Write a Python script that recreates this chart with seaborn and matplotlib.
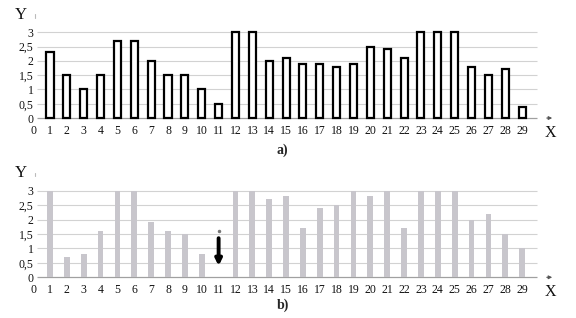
import numpy as np
import pandas as pd
import matplotlib
matplotlib.use("Agg")
import matplotlib.pyplot as plt
import seaborn as sns

# ---- data ----
positions = list(range(1, 30))
values_a = [2.3, 1.5, 1.0, 1.5, 2.7, 2.7, 2.0, 1.5, 1.5, 1.0, 0.5, 3.0, 3.0, 2.0, 2.1,
            1.9, 1.9, 1.8, 1.9, 2.5, 2.4, 2.1, 3.0, 3.0, 3.0, 1.8, 1.5, 1.7, 0.4]
values_b = [3.0, 0.7, 0.8, 1.6, 3.0, 3.0, 1.9, 1.6, 1.5, 0.8, None, 3.0, 3.0, 2.7, 2.8,
            1.7, 2.4, 2.5, 3.0, 2.8, 3.0, 1.7, 3.0, 3.0, 3.0, 2.0, 2.2, 1.5, 1.0]
x_ticks = list(range(0, 30))
x_tick_labels = [str(v) for v in x_ticks]
y_ticks = [0, 0.5, 1, 1.5, 2, 2.5, 3]
y_tick_labels = ["0", "0,5", "1", "1,5", "2", "2,5", "3"]
panel_labels = ["a)", "b)"]
arrow_pos = 11
arrow_from, arrow_to = 1.45, 0.3

sns.set_theme(style="white")
plt.rcParams["font.family"] = ["Liberation Serif", "DejaVu Serif"]

fig = plt.figure(figsize=(5.76, 3.18), dpi=100)
ax_a = fig.add_axes([0.0283, 0.6198, 0.9425, 0.3418])
ax_b = fig.add_axes([0.0283, 0.1189, 0.9425, 0.3453])

df_a = pd.DataFrame({"x": positions, "y": values_a})
df_b = pd.DataFrame({"x": positions, "y": values_b}).dropna()

sns.barplot(data=df_a, x="x", y="y", native_scale=True, width=0.42,
            color="white", edgecolor="black", linewidth=1.6, ax=ax_a, zorder=3)
sns.barplot(data=df_b, x="x", y="y", native_scale=True, width=0.34,
            color="#c8c6cc", saturation=1, linewidth=0, ax=ax_b, zorder=3)

for ax, lab, lab_y in [(ax_a, panel_labels[0], -1.12), (ax_b, panel_labels[1], -0.98)]:
    ax.set_xlim(-1.0, 31.2)
    ax.set_ylim(-0.1, 3.7)
    for s in ax.spines.values():
        s.set_visible(False)
    ax.grid(False)
    ax.hlines(y_ticks[1:], 0.2, 29.9, color="#d2d2d2", lw=0.8, zorder=1)
    ax.hlines(0, 0.2, 29.9, color="#a0a0a0", lw=0.9, zorder=2)
    ax.annotate("", xy=(30.95, 0), xytext=(30.3, 0),
                arrowprops=dict(arrowstyle="-|>", color="#555555", lw=0.8,
                                mutation_scale=5), annotation_clip=False)
    ax.plot([0.1, 0.1], [3.5, 3.62], color="#bbbbbb", lw=0.8, clip_on=False)
    ax.set_xticks(x_ticks + [30.65])
    ax.set_xticklabels(x_tick_labels + ["X"])
    ax.set_yticks(y_ticks)
    ax.set_yticklabels(y_tick_labels)
    ax.tick_params(axis="x", length=0, pad=3, labelsize=8.5, colors="#111111")
    ax.tick_params(axis="y", length=0, pad=-12.5, labelsize=8.5, colors="#111111")
    ax.get_xticklabels()[-1].set_fontsize(11.5)
    ax.set_xlabel("")
    ax.set_ylabel("")
    ax.text(-0.75, 3.6, "Y", fontsize=12, ha="center", va="center", color="#111111")
    ax.text(14.8, lab_y, lab, fontsize=10, fontweight="bold", ha="center",
            va="center", clip_on=False)

ax_b.annotate("", xy=(arrow_pos, arrow_to), xytext=(arrow_pos, arrow_from),
              arrowprops=dict(arrowstyle="-|>", color="black", lw=2.8,
                              mutation_scale=9), zorder=4)
ax_b.plot([arrow_pos], [arrow_from + 0.14], marker="o", ms=1.5, color="#777777")

fig.savefig("out.png", dpi=100)
